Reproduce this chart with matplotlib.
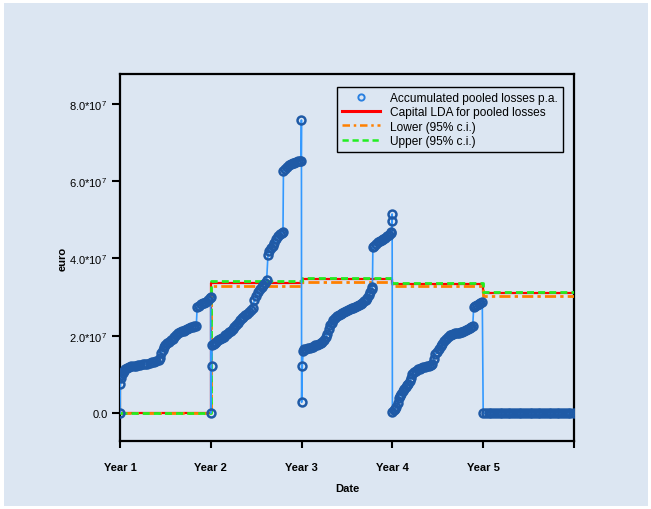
import matplotlib
matplotlib.use('Agg')
import matplotlib.pyplot as plt
from matplotlib.lines import Line2D
from matplotlib.patches import Rectangle
from matplotlib.ticker import FixedLocator, FuncFormatter

plt.rcParams['font.family'] = ['Liberation Sans', 'DejaVu Sans']
plt.rcParams['mathtext.fontset'] = 'custom'
plt.rcParams['mathtext.rm'] = 'Liberation Sans'
plt.rcParams['mathtext.default'] = 'regular'

SCALE = 1e7  # values below are in units of 10^7 euro

# ---- accumulated pooled losses per year (time in years, value in 1e7 euro)
year1_t = [0.000, 0.003, 0.006, 0.015, 0.030, 0.045, 0.060, 0.080, 0.100, 0.125,
           0.150, 0.175, 0.200, 0.225, 0.250, 0.275, 0.300, 0.325, 0.350, 0.375,
           0.400, 0.425, 0.440, 0.455, 0.470, 0.485, 0.500, 0.520, 0.540, 0.560,
           0.580, 0.600, 0.620, 0.640, 0.660, 0.680, 0.700, 0.720, 0.740, 0.760,
           0.780, 0.800, 0.820, 0.840, 0.850, 0.870, 0.890, 0.910, 0.930, 0.950,
           0.970, 0.990, 0.998]
year1_v = [0.00, 0.75, 0.90, 0.98, 1.05, 1.10, 1.13, 1.16, 1.19, 1.21,
           1.22, 1.23, 1.24, 1.25, 1.26, 1.27, 1.28, 1.29, 1.31, 1.33,
           1.35, 1.38, 1.42, 1.55, 1.63, 1.70, 1.75, 1.81, 1.85, 1.89,
           1.93, 1.97, 2.02, 2.08, 2.10, 2.12, 2.13, 2.15, 2.18, 2.21,
           2.23, 2.24, 2.25, 2.26, 2.74, 2.78, 2.82, 2.84, 2.86, 2.88,
           2.92, 2.97, 3.00]

year2_t = [1.000, 1.008, 1.016, 1.030, 1.045, 1.060, 1.080, 1.100, 1.120, 1.140,
           1.160, 1.180, 1.200, 1.220, 1.240, 1.260, 1.280, 1.300, 1.320, 1.340,
           1.360, 1.380, 1.400, 1.420, 1.440, 1.460, 1.480, 1.500, 1.520, 1.540,
           1.560, 1.580, 1.600, 1.615, 1.630, 1.645, 1.660, 1.680, 1.700, 1.720,
           1.740, 1.760, 1.780, 1.795, 1.800, 1.820, 1.840, 1.860, 1.880, 1.900,
           1.920, 1.940, 1.960, 1.980, 1.995, 1.998]
year2_v = [0.00, 1.22, 1.75, 1.78, 1.81, 1.84, 1.88, 1.92, 1.95, 1.98,
           2.01, 2.05, 2.09, 2.13, 2.17, 2.22, 2.28, 2.34, 2.40, 2.45,
           2.49, 2.53, 2.57, 2.61, 2.66, 2.72, 2.92, 3.02, 3.12, 3.20,
           3.27, 3.32, 3.37, 3.45, 4.10, 4.20, 4.27, 4.33, 4.40, 4.50,
           4.58, 4.62, 4.66, 4.68, 6.26, 6.32, 6.37, 6.41, 6.44, 6.46,
           6.48, 6.50, 6.51, 6.52, 6.53, 7.58]

year3_t = [2.000, 2.008, 2.018, 2.030, 2.050, 2.070, 2.090, 2.110, 2.130, 2.150,
           2.170, 2.190, 2.210, 2.230, 2.250, 2.270, 2.285, 2.300, 2.315, 2.330,
           2.350, 2.370, 2.390, 2.410, 2.430, 2.450, 2.470, 2.490, 2.510, 2.530,
           2.550, 2.570, 2.590, 2.610, 2.630, 2.650, 2.670, 2.690, 2.710, 2.725,
           2.740, 2.755, 2.770, 2.780, 2.785, 2.800, 2.820, 2.840, 2.860, 2.880,
           2.900, 2.920, 2.940, 2.960, 2.980, 2.990, 2.994, 2.997]
year3_v = [0.28, 1.22, 1.62, 1.66, 1.67, 1.68, 1.69, 1.70, 1.72, 1.75,
           1.77, 1.79, 1.82, 1.85, 1.90, 1.97, 2.05, 2.18, 2.28, 2.34,
           2.40, 2.46, 2.50, 2.54, 2.57, 2.60, 2.62, 2.65, 2.68, 2.70,
           2.72, 2.73, 2.75, 2.77, 2.80, 2.83, 2.86, 2.89, 2.93, 2.98,
           3.05, 3.13, 3.20, 3.26, 4.30, 4.33, 4.37, 4.42, 4.45, 4.48,
           4.51, 4.54, 4.57, 4.61, 4.65, 4.68, 4.97, 5.15]

year4_t = [3.000, 3.015, 3.030, 3.045, 3.060, 3.070, 3.085, 3.100, 3.115, 3.130,
           3.145, 3.160, 3.175, 3.190, 3.205, 3.220, 3.240, 3.260, 3.280, 3.300,
           3.320, 3.340, 3.360, 3.380, 3.400, 3.420, 3.440, 3.455, 3.470, 3.490,
           3.510, 3.530, 3.550, 3.570, 3.590, 3.610, 3.630, 3.650, 3.670, 3.690,
           3.710, 3.730, 3.750, 3.770, 3.790, 3.810, 3.830, 3.850, 3.870, 3.885,
           3.895, 3.910, 3.930, 3.950, 3.970, 3.990]
year4_v = [0.03, 0.08, 0.12, 0.16, 0.26, 0.38, 0.45, 0.50, 0.56, 0.62,
           0.68, 0.72, 0.76, 0.82, 0.92, 1.00, 1.06, 1.10, 1.13, 1.15,
           1.17, 1.19, 1.20, 1.21, 1.22, 1.24, 1.27, 1.40, 1.52, 1.58,
           1.66, 1.74, 1.80, 1.86, 1.93, 1.98, 2.01, 2.03, 2.05, 2.06,
           2.07, 2.08, 2.09, 2.10, 2.12, 2.15, 2.18, 2.20, 2.23, 2.25,
           2.74, 2.76, 2.79, 2.81, 2.84, 2.87]

year5_t = [4.000, 4.030, 4.060, 4.090, 4.120, 4.150, 4.180, 4.210, 4.240, 4.270,
           4.300, 4.330, 4.360, 4.390, 4.420, 4.450, 4.480, 4.510, 4.540, 4.570,
           4.600, 4.630, 4.660, 4.690, 4.720, 4.750, 4.780, 4.810, 4.840, 4.870,
           4.900, 4.930, 4.960, 5.000]
year5_v = [0.00, 0.00, 0.00, 0.00, 0.00, 0.00, 0.00, 0.00, 0.00, 0.00,
           0.00, 0.00, 0.00, 0.00, 0.00, 0.00, 0.00, 0.00, 0.00, 0.00,
           0.00, 0.00, 0.00, 0.00, 0.00, 0.00, 0.00, 0.00, 0.00, 0.00,
           0.00, 0.00, 0.00, 0.00]

# ---- capital estimates per year (step functions)
step_years = [0, 1, 2, 3, 4, 5]
capital = [0.00, 3.36, 3.47, 3.34, 3.10]
lower = [0.00, 3.29, 3.39, 3.28, 3.03]
upper = [0.00, 3.41, 3.50, 3.36, 3.12]

xtick_labels = ['Year 1', 'Year 2', 'Year 3', 'Year 4', 'Year 5', '']
ytick_values = [0.0, 2.0, 4.0, 6.0, 8.0]

BG = '#dce6f2'
W, H = 651, 510
fig = plt.figure(figsize=(W / 100, H / 100), dpi=100, facecolor='white')
fig.patches.append(Rectangle((4 / W, 3 / H), (644 / W), (503 / H), transform=fig.transFigure,
                             facecolor=BG, edgecolor='none', zorder=-10))

ax = fig.add_axes([120 / W, 1 - 442 / H, (574 - 120) / W, (442 - 75) / H])
ax.set_facecolor(BG)

t_all = year1_t + year2_t + year3_t + year4_t + year5_t
v_all = [v * SCALE for v in (year1_v + year2_v + year3_v + year4_v + year5_v)]

ax.step(step_years, [c * SCALE for c in capital + capital[-1:]], where='post',
        color='#ff0000', lw=1.6, zorder=2)
ax.step(step_years, [c * SCALE for c in lower + lower[-1:]], where='post',
        color='#ff8000', lw=2.0, dashes=[4, 1.5, 1.2, 1.5], zorder=3)
ax.step(step_years, [c * SCALE for c in upper + upper[-1:]], where='post',
        color='#22ee22', lw=2.0, dashes=[2.5, 1.5], zorder=4)

ax.plot(t_all, v_all, color='#3399ff', lw=1.2, marker='o', ms=5.7, mfc='none',
        mec='#1f5aa6', mew=1.8, zorder=5)

ax.set_xlim(0, 5)
ax.set_ylim(-0.72 * SCALE, 8.77 * SCALE)
ax.xaxis.set_major_locator(FixedLocator(step_years))
ax.set_xticklabels(xtick_labels, fontsize=8, fontweight='bold')


def yfmt(v, pos):
    m = v / SCALE
    if abs(m) < 1e-9:
        return '0.0'
    return '%.1f*10$^{7}$' % m


ax.yaxis.set_major_locator(FixedLocator([v * SCALE for v in ytick_values]))
ax.yaxis.set_major_formatter(FuncFormatter(yfmt))
ax.tick_params(axis='y', labelsize=8, direction='out', length=6, width=1.5, pad=3)
ax.tick_params(axis='x', direction='out', length=5, width=1.5, pad=10)

for s in ax.spines.values():
    s.set_linewidth(1.6)
    s.set_color('black')

ax.set_xlabel('Date', fontsize=8, fontweight='bold', labelpad=8)
ax.set_ylabel('euro', fontsize=8, fontweight='bold', labelpad=1)

handles = [
    Line2D([], [], ls='none', marker='o', ms=4.5, mfc='none', mec='#2a80e0', mew=1.4),
    Line2D([], [], color='#ff0000', lw=2.2),
    Line2D([], [], color='#ff8000', lw=1.8, dashes=[3, 1.5, 1, 1.5]),
    Line2D([], [], color='#22ee22', lw=1.8, dashes=[2.5, 1.5]),
]
labels = ['Accumulated pooled losses p.a.', 'Capital LDA for pooled losses',
          'Lower (95% c.i.)', 'Upper (95% c.i.)']
leg = ax.legend(handles, labels, loc='upper right',
                bbox_to_anchor=((563 - 120) / 454, (442 - 88) / 367),
                fontsize=8.6, frameon=True,
                fancybox=False, edgecolor='black', facecolor=BG, framealpha=1,
                handlelength=3.2, handletextpad=0.9, labelspacing=0.2,
                borderpad=0.4, borderaxespad=0.0)
leg.get_frame().set_linewidth(1.0)

fig.savefig('out.png', dpi=100, facecolor=fig.get_facecolor())
